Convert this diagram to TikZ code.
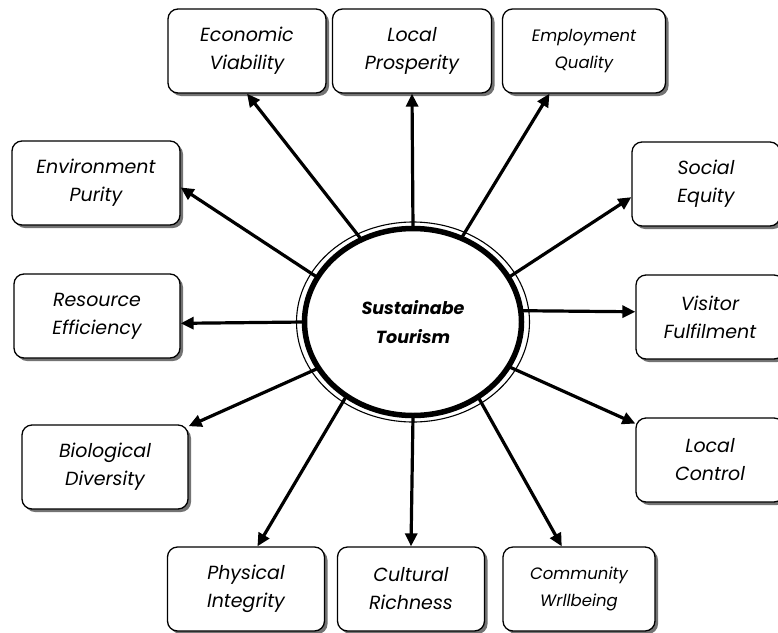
\documentclass[tikz,border=0pt]{standalone}
\usepackage{fontspec}
\setmainfont{Poppins}
\usetikzlibrary{arrows.meta,shapes.geometric,shadows}

\begin{document}
\begin{tikzpicture}[x=1pt,y=-1pt,
  box/.style={draw,line width=1.3pt,rounded corners=10pt,fill=white,
    drop shadow={shadow xshift=3pt,shadow yshift=-3pt,fill=black,opacity=.55},
    minimum height=84pt,inner sep=0pt,align=center,
    font=\fontsize{19}{28}\selectfont\itshape},
  smallbox/.style={box,font=\fontsize{16.5}{27}\selectfont\itshape},
  hub/.style={draw,ellipse,line width=5.5pt,fill=white,inner sep=0pt,outer sep=0pt,
    minimum width=217pt,minimum height=187pt,align=center,
    font=\fontsize{17.5}{29}\selectfont\bfseries\itshape},
  link/.style={line width=3.2pt,-{Triangle[length=13pt,width=12pt]}}]
\useasboundingbox (0,0) rectangle (778,632);
\clip (0,0) rectangle (778,632);

\node[box,minimum width=158pt] (eco) at (247,51) {Economic\\Viability};
\node[box,minimum width=159pt] (pros) at (412,51) {Local\\Prosperity};
\node[smallbox,minimum width=163pt] (emp) at (584,51) {Employment\\Quality};
\node[box,minimum width=168pt] (env) at (96,183) {Environment\\Purity};
\node[box,minimum width=148pt] (soc) at (706,184) {Social\\Equity};
\node[box,minimum width=166pt] (res) at (97,316) {Resource\\Efficiency};
\node[box,minimum width=148pt] (vis) at (710,317) {Visitor\\Fulfilment};
\node[box,minimum width=166pt] (bio) at (105,467) {Biological\\Diversity};
\node[box,minimum width=148pt] (ctl) at (710,460) {Local\\Control};
\node[box,minimum width=157pt] (phy) at (246,589) {Physical\\Integrity};
\node[box,minimum width=147pt] (cul) at (411,589) {Cultural\\Richness};
\node[smallbox,minimum width=152pt] (com) at (579,589) {Community\\Wrllbeing};

\node[hub] (c) at (413,322) {Sustainabe\\Tourism};
\draw[line width=1.1pt] (c.center) ellipse [x radius=116.5pt,y radius=100pt];

\draw[link] (c.122) -- (eco.south);
\draw[link] (c.90) -- (pros.south);
\draw[link] (c.60) -- (emp.231);
\draw[link] (c.155) -- (env.-3);
\draw[link] (c.25) -- (soc.190);
\draw[link] (c.180) -- (res.-5);
\draw[link] (c.6) -- (vis.176);
\draw[link] (c.206) -- (bio.26);
\draw[link] (c.335) -- (ctl.154);
\draw[link] (c.228) -- (phy.75);
\draw[link] (c.270) -- (cul.north);
\draw[link] (c.311) -- (com.112);
\end{tikzpicture}
\end{document}
